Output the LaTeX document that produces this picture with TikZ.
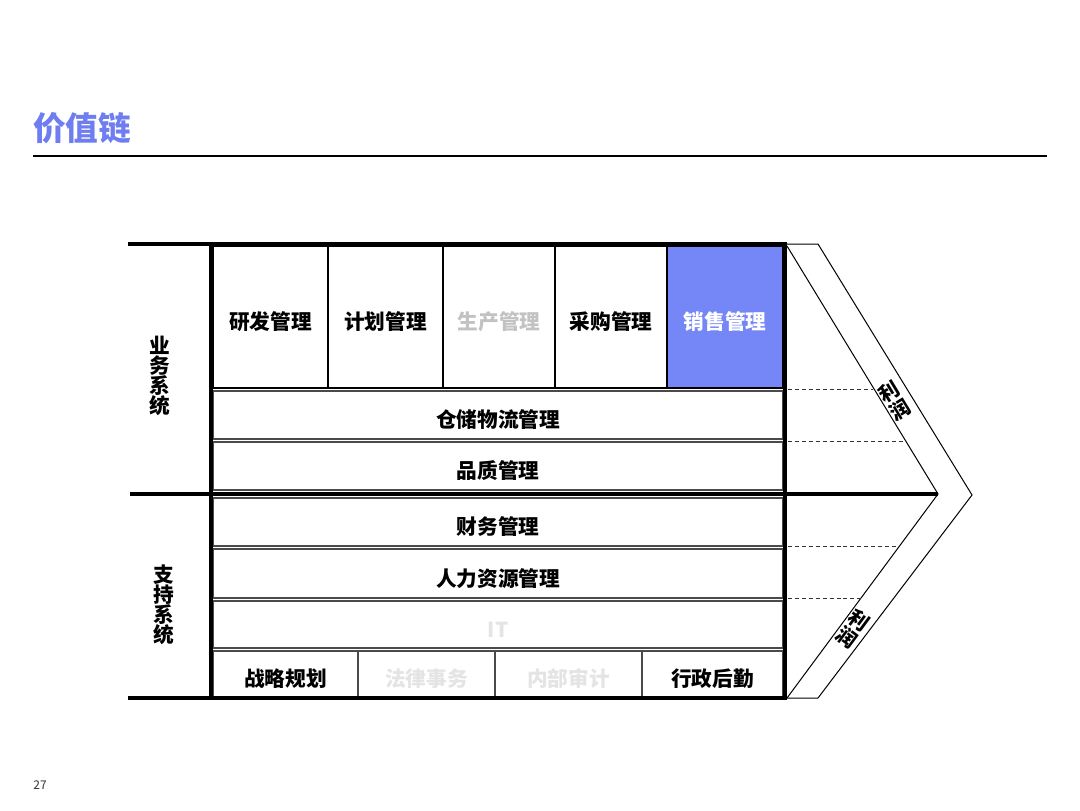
\documentclass[tikz,border=0pt]{standalone}
\usepackage{fontspec}
\setmainfont{Noto Sans CJK SC}
\definecolor{titleblue}{HTML}{6E7EF0}
\definecolor{salesblue}{HTML}{7586F7}
\definecolor{gtext}{HTML}{C2C2C2}
\definecolor{ltext}{HTML}{E4E4E4}
\definecolor{rowline}{HTML}{4A4A4A}
\definecolor{pagenum}{HTML}{333333}
\tikzset{
  heavy/.style={line width=3pt, line cap=rect},
  rowbox/.style={draw=rowline, line width=0.9pt},
  colbox/.style={draw=black, line width=0.9pt},
  celltext/.style={font=\bfseries\fontsize{15.5}{18}\selectfont, text=black, inner sep=0pt, yshift=-3.6pt},
  sidelabel/.style={font=\bfseries\fontsize{15.5}{15}\selectfont, align=center, inner sep=0pt},
  profit/.style={font=\bfseries\fontsize{15}{16}\selectfont, inner sep=0pt},
  chev/.style={draw=black, line width=0.75pt},
  guide/.style={draw=black!80, line width=0.75pt, dash pattern=on 3pt off 2.2pt},
}
\begin{document}
\begin{tikzpicture}[x=0.75pt,y=-0.75pt]
\useasboundingbox (0,0) rectangle (1080,810);

% title
\node[font=\bfseries\fontsize{24.5}{28}\selectfont, text=titleblue, inner sep=0pt] (title) at (82,128) {价值链};
\coordinate (tl) at (33,156);
\coordinate (tr) at (1047,156);
\draw[line width=1pt] (tl) -- (tr);
\node[font=\fontsize{9}{10}\selectfont, text=pagenum, inner sep=0pt] (page) at (40,785) {27};

% top row cells
\fill[salesblue] (667,246) rectangle (783,388);
\draw[colbox] (213,246) rectangle (328,388) node[midway, celltext] (yf) {研发管理};
\draw[colbox] (328,246) rectangle (443,388) node[midway, celltext] (jh) {计划管理};
\draw[colbox] (443,246) rectangle (555,388) node[midway, celltext, text=gtext] (sc) {生产管理};
\draw[colbox] (555,246) rectangle (667,388) node[midway, celltext] (cg) {采购管理};
\draw[colbox] (667,246) rectangle (783,388) node[midway, celltext, text=white] (xs) {销售管理};

% full-width rows
\draw[rowbox] (213,391) rectangle (783,439) node[midway, celltext] (cc) {仓储物流管理};
\draw[rowbox] (213,442) rectangle (783,490) node[midway, celltext] (pz) {品质管理};
\draw[rowbox] (213,498) rectangle (783,546) node[midway, celltext] (cw) {财务管理};
\draw[rowbox] (213,549) rectangle (783,598) node[midway, celltext] (rl) {人力资源管理};
\draw[rowbox] (213,601) rectangle (783,648) node[midway, celltext, text=ltext] (it) {IT};

% bottom row cells
\draw[rowbox] (213,651) rectangle (358,697) node[midway, celltext] (zl) {战略规划};
\draw[rowbox] (358,651) rectangle (495,697) node[midway, celltext, text=ltext] (fl) {法律事务};
\draw[rowbox] (495,651) rectangle (642,697) node[midway, celltext, text=ltext] (nb) {内部审计};
\draw[rowbox] (642,651) rectangle (783,697) node[midway, celltext] (xz) {行政后勤};

% side labels
\node[sidelabel] (yw) at (160,376) {业\\务\\系\\统};
\node[sidelabel] (zc) at (164,605) {支\\持\\系\\统};

% chevron
\coordinate (a1) at (785,244);
\coordinate (a2) at (818,244);
\coordinate (tip) at (972,495);
\coordinate (b2) at (818,698);
\coordinate (b1) at (787,698);
\coordinate (i1) at (787,246);
\coordinate (itip) at (938,494);
\draw[chev] (a1) -- (a2) -- (tip) -- (b2) -- (b1);
\draw[chev] (i1) -- (itip) -- (b1);

% dashed guides
\coordinate (d1a) at (788,389); \coordinate (d1b) at (873,389);
\coordinate (d2a) at (788,441); \coordinate (d2b) at (905,441);
\coordinate (d3a) at (788,546); \coordinate (d3b) at (900,546);
\coordinate (d4a) at (788,598); \coordinate (d4b) at (861,598);
\draw[guide] (d1a) -- (d1b);
\draw[guide] (d2a) -- (d2b);
\draw[guide] (d3a) -- (d3b);
\draw[guide] (d4a) -- (d4b);

% profit labels (one glyph per node, stacked along the diagonals)
\node[profit, rotate=31.3] (p1a) at (889.5,391.5) {利};
\node[profit, rotate=31.3] (p1b) at (900.5,409.5) {润};
\node[profit, rotate=-36.5] (p2a) at (859.2,620.6) {利};
\node[profit, rotate=-36.5] (p2b) at (846.8,637.4) {润};

% heavy frame
\coordinate (h1) at (130,244); \coordinate (h2) at (785,244);
\coordinate (h3) at (130,494); \coordinate (h4) at (938,494);
\coordinate (h5) at (130,698); \coordinate (h6) at (785,698);
\coordinate (v1) at (211,244); \coordinate (v2) at (211,698);
\draw[heavy] (h1) -- (h2);
\draw[heavy, line cap=butt] (h3) -- (h4);
\draw[heavy] (h5) -- (h6);
\draw[heavy] (v1) -- (v2);
\draw[heavy] (h2) -- (h6);
\end{tikzpicture}
\end{document}
